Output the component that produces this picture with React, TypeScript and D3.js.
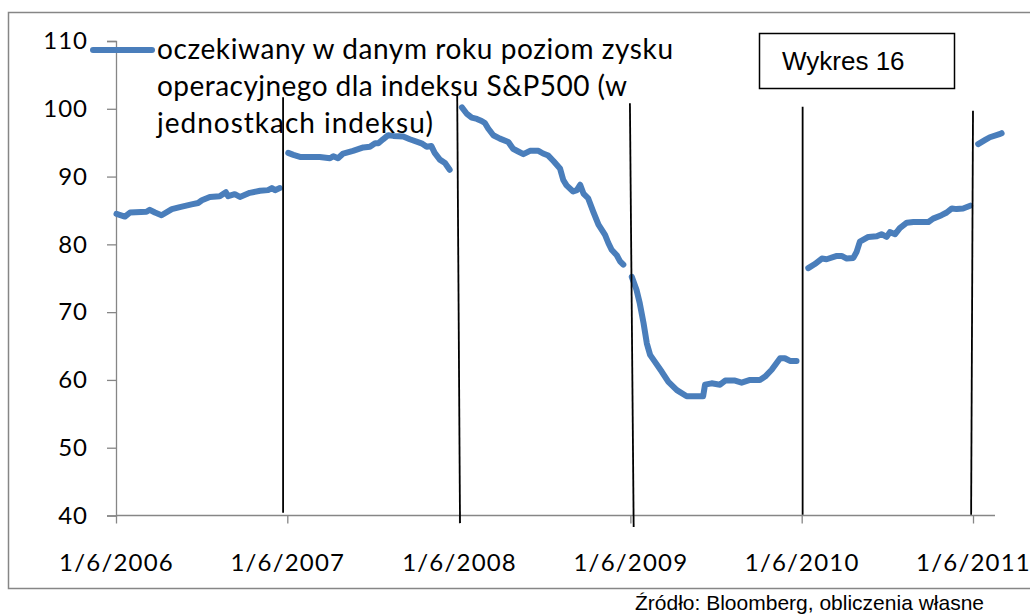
import { useEffect, useRef } from 'react'
import * as d3 from 'd3'

// expected operating earnings for the S&P500, one piece per forecast year
const seg2006: [string, number][] = [
  ['2006-06-02', 84.5], ['2006-06-20', 84.1], ['2006-07-01', 84.7], ['2006-08-05', 84.8],
  ['2006-08-12', 85.1], ['2006-08-23', 84.7], ['2006-09-06', 84.3], ['2006-09-28', 85.2],
  ['2006-10-15', 85.5], ['2006-11-09', 85.9], ['2006-11-23', 86.1], ['2006-12-01', 86.5],
  ['2006-12-18', 87.0], ['2007-01-08', 87.1], ['2007-01-21', 87.7], ['2007-01-26', 87.1],
  ['2007-02-09', 87.4], ['2007-02-20', 87.0], ['2007-03-13', 87.6], ['2007-04-04', 87.9],
  ['2007-04-21', 88.0], ['2007-04-29', 88.3], ['2007-05-06', 88.0], ['2007-05-16', 88.3],
]

const seg2007: [string, number][] = [
  ['2007-06-03', 93.5], ['2007-06-14', 93.2], ['2007-06-28', 92.9], ['2007-08-09', 92.9],
  ['2007-08-31', 92.7], ['2007-09-07', 93.0], ['2007-09-17', 92.7], ['2007-09-28', 93.4],
  ['2007-10-19', 93.8], ['2007-11-10', 94.3], ['2007-11-24', 94.4], ['2007-12-05', 94.9],
  ['2007-12-12', 94.9], ['2007-12-22', 95.5], ['2008-01-02', 96.1], ['2008-01-13', 96.0],
  ['2008-02-03', 95.9], ['2008-02-17', 95.5], ['2008-03-13', 94.9], ['2008-03-24', 94.4],
  ['2008-04-03', 94.5], ['2008-04-10', 93.5], ['2008-04-21', 92.5], ['2008-05-02', 92.0],
  ['2008-05-12', 91.0],
]

const seg2008: [string, number][] = [
  ['2008-06-07', 100.2], ['2008-06-17', 99.3], ['2008-06-28', 98.7], ['2008-07-09', 98.5],
  ['2008-07-19', 98.2], ['2008-07-26', 97.9], ['2008-08-02', 97.1], ['2008-08-13', 96.1],
  ['2008-08-27', 95.6], ['2008-09-14', 95.1], ['2008-09-24', 94.1], ['2008-10-05', 93.7],
  ['2008-10-16', 93.3], ['2008-10-30', 93.8], ['2008-11-17', 93.8], ['2008-11-27', 93.4],
  ['2008-12-08', 93.1], ['2008-12-19', 92.3], ['2009-01-02', 91.2], ['2009-01-09', 89.5],
  ['2009-01-16', 88.7], ['2009-01-30', 87.8], ['2009-02-07', 88.0], ['2009-02-14', 88.8],
  ['2009-02-21', 87.5], ['2009-03-03', 86.8], ['2009-03-14', 84.8], ['2009-03-25', 82.9],
  ['2009-04-08', 81.4], ['2009-04-15', 80.2], ['2009-04-22', 79.2], ['2009-05-03', 78.4],
  ['2009-05-10', 77.5], ['2009-05-17', 77.0],
]

const seg2009: [string, number][] = [
  ['2009-06-04', 75.2], ['2009-06-14', 73.3], ['2009-06-21', 71.3], ['2009-06-29', 68.4],
  ['2009-07-06', 65.4], ['2009-07-13', 63.7], ['2009-07-23', 62.7], ['2009-08-07', 61.2],
  ['2009-08-21', 59.7], ['2009-09-08', 58.5], ['2009-09-29', 57.6], ['2009-11-03', 57.6],
  ['2009-11-07', 59.3], ['2009-11-21', 59.5], ['2009-12-09', 59.3], ['2009-12-20', 59.9],
  ['2010-01-10', 59.9], ['2010-01-24', 59.6], ['2010-02-11', 60.0], ['2010-03-04', 60.0],
  ['2010-03-15', 60.5], ['2010-03-29', 61.5], ['2010-04-16', 63.2], ['2010-04-26', 63.2],
  ['2010-05-07', 62.8], ['2010-05-21', 62.8],
]

const seg2010: [string, number][] = [
  ['2010-06-15', 76.5], ['2010-06-29', 77.1], ['2010-07-14', 77.9], ['2010-07-24', 77.8],
  ['2010-08-15', 78.3], ['2010-08-25', 78.3], ['2010-09-05', 77.9], ['2010-09-19', 78.0],
  ['2010-09-26', 78.9], ['2010-10-03', 80.4], ['2010-10-21', 81.1], ['2010-11-08', 81.2],
  ['2010-11-18', 81.5], ['2010-11-29', 81.1], ['2010-12-06', 81.8], ['2010-12-17', 81.5],
  ['2010-12-27', 82.4], ['2011-01-11', 83.2], ['2011-01-25', 83.3], ['2011-02-26', 83.3],
  ['2011-03-08', 83.8], ['2011-03-26', 84.3], ['2011-04-06', 84.7], ['2011-04-17', 85.3],
  ['2011-04-27', 85.2], ['2011-05-11', 85.3], ['2011-05-26', 85.7],
]

const seg2011: [string, number][] = [
  ['2011-06-12', 94.8], ['2011-06-27', 95.4], ['2011-07-07', 95.8], ['2011-07-29', 96.3],
  ['2011-08-01', 96.4],
]

const segments = [seg2006, seg2007, seg2008, seg2009, seg2010, seg2011]

const yTicks = [40, 50, 60, 70, 80, 90, 100, 110]
const xTicks = ['2006-06-01', '2007-06-01', '2008-06-01', '2009-06-01', '2010-06-01', '2011-06-01']

// hand drawn year separators: [date, value] at top and bottom
const dividers: [string, number, string, number][] = [
  ['2007-05-23', 101.7, '2007-05-23', 40.4],
  ['2008-05-28', 102.0, '2008-06-03', 38.9],
  ['2009-05-31', 100.8, '2009-06-08', 38.3],
  ['2010-06-03', 100.3, '2010-06-03', 40.1],
  ['2011-06-01', 99.7, '2011-05-28', 40.1],
]

const legendLines = [
  'oczekiwany w danym roku poziom zysku',
  'operacyjnego dla indeksu S&P500 (w',
  'jednostkach indeksu)',
]
const legendWidths = [516, 470, 276]

const BLUE = '#4a7ebb'
const AXIS = '#868686'
const CAL = "Lato, 'Open Sans', sans-serif"
const ARIAL = "'Liberation Sans', Arial, sans-serif"

const App = () => {
  const svgRef = useRef<SVGSVGElement | null>(null)

  useEffect(() => {
    if (!svgRef.current) return
    const parse = d3.utcParse('%Y-%m-%d')
    const fmt = d3.utcFormat('%-d/%-m/%Y')

    const svg = d3.select(svgRef.current)
    svg.selectAll('*').remove()

    const x = d3
      .scaleUtc()
      .domain([parse('2006-06-01')!, parse('2011-06-01')!])
      .range([116, 973])
    const y = d3.scaleLinear().domain([40, 110]).range([515.5, 41])
    const xEnd = 995

    // outer frame
    svg
      .append('rect')
      .attr('x', 8.5)
      .attr('y', 12.5)
      .attr('width', 1040)
      .attr('height', 576)
      .attr('fill', 'none')
      .attr('stroke', AXIS)
      .attr('stroke-width', 1.5)

    // y axis
    const yAxis = svg
      .append('g')
      .attr('transform', 'translate(116,0)')
      .call(d3.axisLeft(y).tickValues(yTicks).tickSize(9).tickPadding(19))
    yAxis.select('.domain').attr('stroke', AXIS).attr('stroke-width', 1.3)
    yAxis.selectAll('line').attr('stroke', AXIS).attr('stroke-width', 1.3)
    yAxis
      .selectAll('text')
      .attr('fill', '#000')
      .style('font-family', CAL)
      .style('font-size', '24px')
      .style('letter-spacing', '1px')

    // x axis
    const xAxis = svg
      .append('g')
      .attr('transform', `translate(0,${y(40)})`)
      .call(
        d3
          .axisBottom(x)
          .tickValues(xTicks.map((d) => parse(d)!))
          .tickFormat((d) => fmt(d as Date))
          .tickSize(8)
          .tickSizeOuter(0)
          .tickPadding(30)
      )
    xAxis
      .select('.domain')
      .attr('d', `M116,0H${xEnd}`)
      .attr('stroke', AXIS)
      .attr('stroke-width', 1.3)
    xAxis.selectAll('line').attr('stroke', AXIS).attr('stroke-width', 1.3)
    xAxis
      .selectAll('text')
      .attr('fill', '#000')
      .style('font-family', CAL)
      .style('font-size', '24px')
      .style('letter-spacing', '1.2px')

    // series, drawn piece by piece
    const line = d3
      .line<[string, number]>()
      .x((d) => x(parse(d[0])!))
      .y((d) => y(d[1]))
    svg
      .append('g')
      .selectAll('path')
      .data(segments)
      .enter()
      .append('path')
      .attr('d', (d) => line(d))
      .attr('fill', 'none')
      .attr('stroke', BLUE)
      .attr('stroke-width', 6)
      .attr('stroke-linejoin', 'round')
      .attr('stroke-linecap', 'round')

    // year separators
    svg
      .append('g')
      .selectAll('line')
      .data(dividers)
      .enter()
      .append('line')
      .attr('x1', (d) => x(parse(d[0])!))
      .attr('y1', (d) => y(d[1]))
      .attr('x2', (d) => x(parse(d[2])!))
      .attr('y2', (d) => y(d[3]))
      .attr('stroke', '#000')
      .attr('stroke-width', 1.8)

    // legend
    svg
      .append('line')
      .attr('x1', 93)
      .attr('x2', 152)
      .attr('y1', 50)
      .attr('y2', 50)
      .attr('stroke', BLUE)
      .attr('stroke-width', 6)
      .attr('stroke-linecap', 'round')
    svg
      .append('g')
      .selectAll('text')
      .data(legendLines)
      .enter()
      .append('text')
      .attr('x', 157)
      .attr('y', (d, i) => 59 + i * 37)
      .attr('textLength', (d, i) => legendWidths[i])
      .attr('lengthAdjust', 'spacing')
      .style('font-family', CAL)
      .style('font-size', '28px')
      .attr('fill', '#000')
      .text((d) => d)

    // "Wykres 16" label box
    svg
      .append('rect')
      .attr('x', 759.5)
      .attr('y', 33.5)
      .attr('width', 195)
      .attr('height', 55)
      .attr('fill', '#fff')
      .attr('stroke', '#000')
      .attr('stroke-width', 1.5)
    svg
      .append('text')
      .attr('x', 782)
      .attr('y', 70)
      .style('font-family', ARIAL)
      .style('font-size', '26px')
      .attr('fill', '#000')
      .text('Wykres 16')

    // source note
    svg
      .append('text')
      .attr('x', 635)
      .attr('y', 610)
      .style('font-family', ARIAL)
      .style('font-size', '21px')
      .attr('fill', '#000')
      .text('Źródło: Bloomberg, obliczenia własne')
  }, [])

  return (
    <svg
      ref={svgRef}
      width={1030}
      height={615}
      style={{ position: 'absolute', left: 0, top: 0, background: '#fff' }}
    />
  )
}

export default App
